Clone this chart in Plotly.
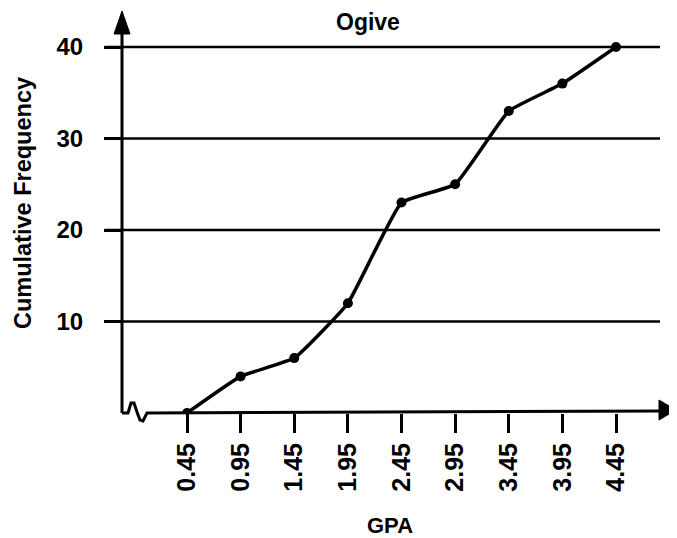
import plotly.graph_objects as go

# ---- data ----
gpa = [0.45, 0.95, 1.45, 1.95, 2.45, 2.95, 3.45, 3.95, 4.45]
cum_freq = [0, 4, 6, 12, 23, 25, 33, 36, 40]
x_tick_labels = ["0.45", "0.95", "1.45", "1.95", "2.45", "2.95", "3.45", "3.95", "4.45"]
y_tick_vals = [10, 20, 30, 40]
y_tick_labels = ["10", "20", "30", "40"]

# the page body has an 8px margin, so the figure starts at (8, 8) on screen
OFF = 8
W, H = 677 - OFF, 538 - OFF
ML, MR, MT, MB = 122 - OFF, 0, 12 - OFF, 125
PW, PH = W - ML - MR, H - MT - MB
BASE = H - MB + OFF  # screen y of the plot bottom (413)


def px(x):
    return (x - OFF - ML) / PW


def py(y):
    return (BASE - y) / PH


FONT = "Liberation Sans, Arial, sans-serif"

fig = go.Figure()
fig.add_trace(go.Scatter(
    x=gpa, y=cum_freq, mode="lines+markers",
    line=dict(color="black", width=3.5, shape="spline", smoothing=0.35),
    marker=dict(color="black", size=10, symbol="circle"),
    showlegend=False, hoverinfo="x+y",
))

shapes = []
for v in y_tick_vals:
    shapes.append(dict(type="line", xref="paper", yref="y",
                       x0=px(105), x1=px(660), y0=v, y1=v,
                       line=dict(color="black", width=2.5)))
shapes.append(dict(type="line", xref="paper", yref="paper",
                   x0=px(122), x1=px(122), y0=py(413), y1=py(28),
                   line=dict(color="black", width=3)))
shapes.append(dict(type="path", xref="paper", yref="paper",
                   path=f"M {px(114)},{py(34)} L {px(122)},{py(11)} L {px(130)},{py(34)} Z",
                   fillcolor="black", line=dict(color="black", width=1)))
pts = [(122, 413), (128, 413), (131, 403), (134, 403), (137, 412),
       (140, 420), (143, 421), (147, 413), (663, 411)]
path = "M " + " L ".join(f"{px(a)},{py(b)}" for a, b in pts)
shapes.append(dict(type="path", xref="paper", yref="paper", path=path,
                   line=dict(color="black", width=3)))
shapes.append(dict(type="path", xref="paper", yref="paper",
                   path=f"M {px(659)},{py(400)} L {px(676)},{py(410)} L {px(659)},{py(420)} Z",
                   fillcolor="black", line=dict(color="black", width=1)))

sx = 107.25
x0 = 0.45 - (187 - 122) / sx
x1 = x0 + PW / sx
sy = 9.15
y1 = PH / sy

fig.update_layout(
    width=W, height=H,
    margin=dict(l=ML, r=MR, t=MT, b=MB, autoexpand=False),
    paper_bgcolor="white", plot_bgcolor="white",
    shapes=shapes,
    xaxis=dict(range=[x0, x1], tickmode="array", tickvals=gpa, ticktext=x_tick_labels,
               tickangle=-90, ticks="outside", ticklen=19, tickwidth=3, tickcolor="black",
               showline=False, showgrid=False, zeroline=False,
               ticklabelstandoff=0,
               tickfont=dict(family=FONT, size=25, color="black", weight="bold")),
    yaxis=dict(range=[0, y1], tickmode="array", tickvals=y_tick_vals, ticktext=y_tick_labels,
               ticks="outside", ticklen=17, tickwidth=2.5, tickcolor="black",
               showline=False, showgrid=False, zeroline=False,
               ticklabelstandoff=16,
               tickfont=dict(family=FONT, size=24, color="black", weight="bold")),
    annotations=[
        dict(text="Ogive", xref="paper", yref="paper", x=px(368), y=py(22),
             xanchor="center", yanchor="middle",
             showarrow=False, font=dict(family=FONT, size=23, color="black", weight="bold")),
        dict(text="GPA", xref="paper", yref="paper", x=px(390), y=py(525),
             xanchor="center", yanchor="middle",
             showarrow=False, font=dict(family=FONT, size=22, color="black", weight="bold")),
        dict(text="Cumulative Frequency", xref="paper", yref="paper", x=px(23), y=py(203),
             xanchor="center", yanchor="middle",
             textangle=-90, showarrow=False,
             font=dict(family=FONT, size=23.5, color="black", weight="bold")),
    ],
)

fig.write_html("out.html")
